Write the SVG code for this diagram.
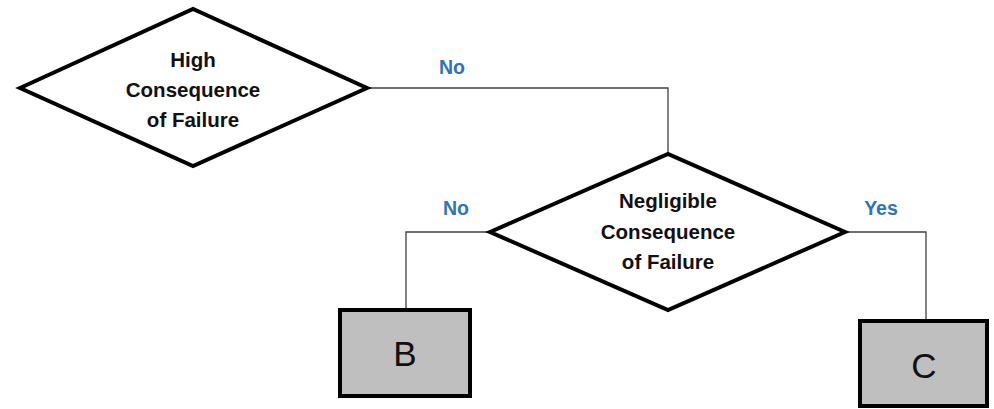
<svg xmlns="http://www.w3.org/2000/svg" width="994" height="409" viewBox="0 0 994 409">
  <style>
    .decision { fill: #ffffff; stroke: #000000; stroke-width: 4; stroke-linejoin: miter; }
    .outcome { fill: #bfbfbf; stroke: #000000; stroke-width: 4; }
    .wire { fill: none; stroke: #404040; stroke-width: 1.3; }
    .qtext { font-family: "Liberation Sans", Arial, sans-serif; font-size: 20.5px; font-weight: bold; fill: #111111; text-anchor: middle; }
    .branch { font-family: "Liberation Sans", Arial, sans-serif; font-size: 19.5px; font-weight: bold; fill: #2e75b6; text-anchor: middle; }
    .otext { font-family: "Liberation Sans", Arial, sans-serif; font-size: 35px; fill: #111111; text-anchor: middle; }
  </style>
  <rect width="994" height="409" fill="#ffffff"/>

  <!-- connectors -->
  <g id="connectors">
    <polyline class="wire" points="368,88 668,88 668,154"/>
    <polyline class="wire" points="490,232 406,232 406,308"/>
    <polyline class="wire" points="845,232 926,232 926,319"/>
    <text class="branch" x="452" y="74">No</text>
    <text class="branch" x="456" y="215">No</text>
    <text class="branch" x="881" y="215">Yes</text>
  </g>

  <!-- decision: high consequence -->
  <g id="high-consequence">
    <polygon class="decision" points="20,88 193,9 367,88 193,166"/>
    <text class="qtext" x="193" y="67">High</text>
    <text class="qtext" x="193" y="97">Consequence</text>
    <text class="qtext" x="193" y="127">of Failure</text>
  </g>

  <!-- decision: negligible consequence -->
  <g id="negligible-consequence">
    <polygon class="decision" points="490,232 668,154 845,232 668,310"/>
    <text class="qtext" x="668" y="208">Negligible</text>
    <text class="qtext" x="668" y="239">Consequence</text>
    <text class="qtext" x="668" y="269">of Failure</text>
  </g>

  <!-- outcome B -->
  <g id="outcome-b">
    <rect class="outcome" x="340" y="310" width="130" height="86"/>
    <text class="otext" x="405" y="366">B</text>
  </g>

  <!-- outcome C -->
  <g id="outcome-c">
    <rect class="outcome" x="860" y="321" width="127" height="85"/>
    <text class="otext" x="924" y="378">C</text>
  </g>
</svg>
